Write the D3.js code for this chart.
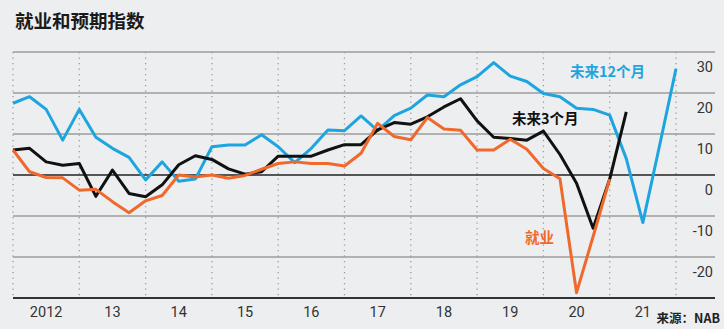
<!DOCTYPE html>
<html>
<head>
<meta charset="utf-8">
<script src="https://cdn.jsdelivr.net/npm/d3@7"></script>
<style>
  html, body { margin: 0; padding: 0; background: #edeef0; }
  svg { display: block; }
</style>
</head>
<body>
<svg id="chart" width="724" height="329"></svg>
<script>
// Quarterly series, starting 2012 Q1
const startYear = 2012;
const expect12m = [17.5, 19.1, 16.0, 8.5, 16.0, 9.2, 6.5, 4.3, -1.2, 3.2, -1.5, -1.0,
  6.9, 7.3, 7.3, 9.8, 6.9, 3.0, 6.5, 11.0, 10.8, 14.4, 10.8, 14.5, 16.3, 19.5, 19.1,
  22.0, 24.0, 27.4, 24.1, 22.8, 19.9, 19.1, 16.3, 16.0, 14.6, 4.0, -11.6, 7.0, 25.9];
const expect3m = [6.1, 6.5, 3.2, 2.4, 2.8, -5.2, 1.2, -4.5, -5.3, -2.4, 2.5, 4.7,
  3.8, 1.5, 0.2, 0.8, 4.6, 4.6, 4.6, 6.1, 7.4, 7.4, 11.0, 12.8, 12.4, 14.2, 16.6,
  18.6, 13.2, 9.2, 8.9, 8.5, 10.7, 5.0, -2.0, -13.0, -1.0, 15.4];
const employment = [6.1, 0.8, -0.6, -0.7, -3.7, -3.5, -6.5, -9.2, -6.3, -5.0, 0.0, -0.5,
  0.0, -0.8, -0.1, 1.4, 2.8, 3.2, 2.8, 2.8, 2.2, 5.3, 12.6, 9.4, 8.6, 14.0, 11.2,
  10.9, 6.1, 6.1, 8.7, 6.3, 1.6, -0.9, -28.7, -15.0, -1.0];
const yearLabels = ["2012", "13", "14", "15", "16", "17", "18", "19", "20", "21"];
const yTicks = [30, 20, 10, 0, -10, -20, -30];

const svg = d3.select("#chart");
const x = d3.scaleLinear().domain([2012, 2022]).range([13, 676]);
const y = d3.scaleLinear().domain([-30, 30]).range([298, 52]);
const gridRight = 715;

// Title
svg.append("text").attr("x", 15).attr("y", 28)
  .attr("font-family", "'Noto Sans CJK SC', sans-serif")
  .attr("font-weight", "bold").attr("font-size", 18.5).attr("fill", "#1a1a1a")
  .text("就业和预期指数");

// Vertical dotted year lines
const yearBounds = d3.range(2012, 2023);
svg.append("g").selectAll("line").data(yearBounds).join("line")
  .attr("x1", d => x(d)).attr("x2", d => x(d))
  .attr("y1", y(30)).attr("y2", y(-30))
  .attr("stroke", "#9a9a9a").attr("stroke-width", 1.3)
  .attr("stroke-dasharray", "1.3,4.2");

// Horizontal grid
svg.append("g").selectAll("line").data(yTicks).join("line")
  .attr("x1", x(2012)).attr("x2", gridRight)
  .attr("y1", d => y(d)).attr("y2", d => y(d))
  .attr("stroke", d => d === 0 ? "#222" : (d === -30 ? "#333" : "#9d9d9d"))
  .attr("stroke-width", d => d === -30 ? 2 : 1.5);

// Y labels (under gridline, right aligned)
svg.append("g").selectAll("text").data(yTicks.filter(d => d > -30)).join("text")
  .attr("x", 713).attr("y", d => y(d) + 19.5)
  .attr("text-anchor", "end")
  .attr("font-family", "Roboto, sans-serif").attr("font-size", 14.5).attr("fill", "#333")
  .text(d => d);

// X labels
svg.append("g").selectAll("text").data(yearLabels).join("text")
  .attr("x", (d, i) => x(startYear + i + 0.5)).attr("y", 317)
  .attr("text-anchor", "middle")
  .attr("font-family", "Roboto, sans-serif").attr("font-size", 14.5).attr("fill", "#333")
  .text(d => d);

// Lines
const line = d3.line().x((d, i) => x(startYear + i / 4)).y(d => y(d));
const series = [
  { data: expect12m, color: "#1ea5e0" },
  { data: expect3m, color: "#111" },
  { data: employment, color: "#f0692c" }
];
svg.append("g").selectAll("path").data(series).join("path")
  .attr("d", d => line(d.data))
  .attr("fill", "none").attr("stroke", d => d.color)
  .attr("stroke-width", 3).attr("stroke-linejoin", "round");

// Series labels
const lab = (t, xx, yy, c) => svg.append("text").attr("x", xx).attr("y", yy)
  .attr("font-family", "'Noto Sans CJK SC', sans-serif").attr("font-weight", "bold")
  .attr("font-size", 14.5).attr("fill", c).text(t);
lab("未来12个月", 570, 77, "#1ea5e0");
lab("未来3个月", 512, 124, "#111");
lab("就业", 525, 243, "#f0692c");

// Source
svg.append("text").attr("x", 720).attr("y", 323).attr("text-anchor", "end")
  .attr("font-family", "'Noto Sans CJK SC', sans-serif").attr("font-weight", "bold")
  .attr("font-size", 12.5).attr("fill", "#222").text("来源：NAB");
</script>
</body>
</html>
